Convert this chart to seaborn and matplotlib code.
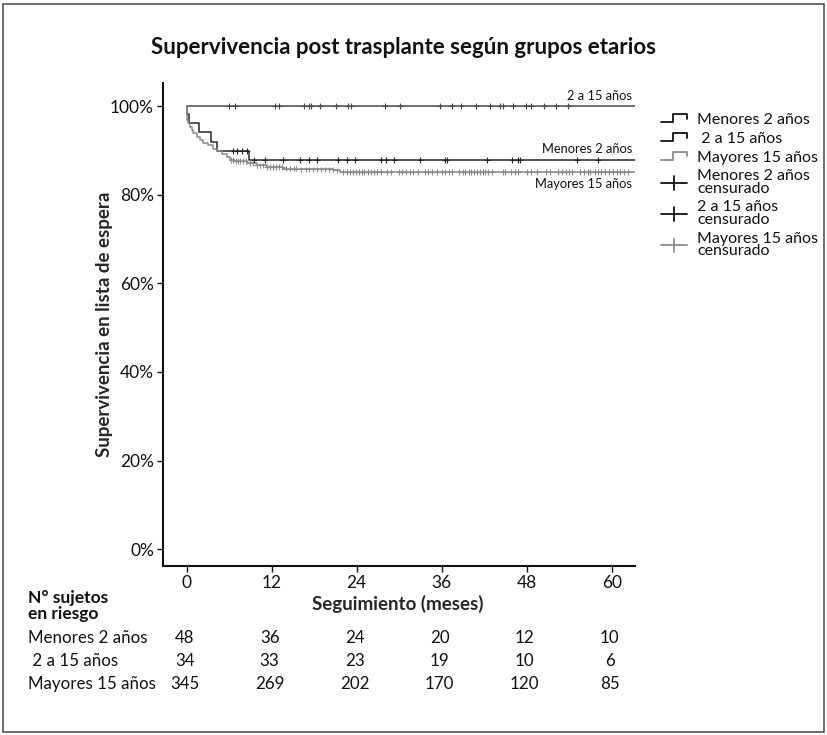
import numpy as np
import pandas as pd
import matplotlib
matplotlib.use("Agg")
import matplotlib.pyplot as plt
import matplotlib.transforms as mtransforms
from matplotlib.lines import Line2D
from matplotlib.legend_handler import HandlerBase
from matplotlib.patches import Rectangle
import seaborn as sns

# ---------------- data ----------------
grupos = ["Menores 2 años", "2 a 15 años", "Mayores 15 años"]
etiquetas_leyenda = ["Menores 2 años", " 2 a 15 años", "Mayores 15 años"]

tiempo_menores = [0.0, 0.05, 0.38, 1.79, 3.39, 4.33, 8.75, 63.3]
superv_menores = [1.0, 0.983, 0.961, 0.941, 0.919, 0.899, 0.878, 0.878]

tiempo_2a15 = [0.0, 63.3]
superv_2a15 = [1.0, 1.0]

tiempo_mayores = [0.0, 0.05, 0.24, 0.47, 0.70, 0.94, 1.41, 1.88, 2.35, 3.06, 3.76,
                  4.24, 4.94, 5.65, 6.12, 6.82, 8.47, 9.88, 11.3, 13.6, 16.0, 20.7,
                  21.6, 63.3]
superv_mayores = [1.0, 0.968, 0.961, 0.953, 0.946, 0.940, 0.931, 0.923, 0.917, 0.911,
                  0.904, 0.899, 0.892, 0.884, 0.878, 0.876, 0.871, 0.866, 0.863,
                  0.859, 0.857, 0.855, 0.851, 0.851]

censura_menores = [6.6, 7.1, 7.8, 8.5, 9.5, 11.0, 13.6, 16.0, 17.3, 18.4, 21.3, 22.6,
                   23.8, 27.5, 28.2, 29.3, 33.0, 36.4, 36.7, 42.4, 46.0, 46.8, 47.1,
                   55.1, 58.1]
censura_2a15 = [6.0, 6.8, 12.4, 13.0, 16.5, 17.2, 17.6, 18.8, 21.1, 22.8, 23.2, 28.0,
                30.1, 35.7, 37.4, 38.8, 40.9, 42.8, 44.2, 44.6, 46.1, 47.9, 48.6,
                50.5, 52.2, 53.9]
censura_mayores = [6.3, 6.6, 6.9, 7.2, 7.5, 8.0, 8.3, 8.9, 9.3, 9.9, 10.4, 10.8, 11.3,
                   11.7, 12.2, 12.6, 13.1, 13.5, 14.0, 14.6, 15.1, 15.5, 16.2, 16.8,
                   17.3, 17.9, 18.4, 19.0, 19.5, 20.1, 20.6, 21.2, 22.1, 22.7, 23.1,
                   23.5, 23.9, 24.3, 24.7, 25.1, 25.6, 26.0, 26.4, 26.9, 27.4, 28.3,
                   28.8, 30.0, 30.4, 31.0, 31.5, 32.0, 32.6, 33.6, 34.1, 34.6, 35.3,
                   36.1, 36.5, 37.1, 37.4, 38.5, 39.0, 39.3, 39.8, 40.2, 40.6, 41.0,
                   41.4, 41.8, 42.1, 42.6, 43.1, 44.6, 45.0, 45.8, 46.3, 46.8, 48.0,
                   48.6, 49.5, 50.8, 51.3, 52.4, 53.0, 53.5, 54.0, 54.4, 55.5, 56.1,
                   56.6, 57.0, 57.6, 58.1, 58.5, 59.0, 59.6, 60.2, 60.7, 61.2, 61.8,
                   62.3]

ticks_x = [0, 12, 24, 36, 48, 60]
ticks_y = [0.0, 0.2, 0.4, 0.6, 0.8, 1.0]
etiquetas_y = ["0%", "20%", "40%", "60%", "80%", "100%"]

riesgo_menores = [48, 36, 24, 20, 12, 10]
riesgo_2a15 = [34, 33, 23, 19, 10, 6]
riesgo_mayores = [345, 269, 202, 170, 120, 85]
etiquetas_riesgo = ["Menores 2 años", " 2 a 15 años", "Mayores 15 años"]

colores = {"Menores 2 años": "#262626", "2 a 15 años": "#4a4a4a",
           "Mayores 15 años": "#8a8a8a"}

# ---------------- tables ----------------
curvas = {
    "Menores 2 años": (tiempo_menores, superv_menores, censura_menores),
    "2 a 15 años": (tiempo_2a15, superv_2a15, censura_2a15),
    "Mayores 15 años": (tiempo_mayores, superv_mayores, censura_mayores),
}
filas, filas_c = [], []
for g in grupos:
    t, s, c = curvas[g]
    for ti, si in zip(t, s):
        filas.append({"grupo": g, "tiempo": ti, "supervivencia": si})
    t_arr = np.asarray(t)
    for ci in c:
        idx = np.searchsorted(t_arr, ci, side="right") - 1
        filas_c.append({"grupo": g, "tiempo": ci, "supervivencia": s[idx]})
df = pd.DataFrame(filas)
df_c = pd.DataFrame(filas_c)

# ---------------- figure ----------------
sns.set_theme(style="ticks")
plt.rcParams["font.family"] = ["Lato", "DejaVu Sans"]
plt.rcParams["text.color"] = "#111111"

W, H = 828, 735
fig = plt.figure(figsize=(W / 100, H / 100), dpi=100)
ax_l, ax_r, ax_t, ax_b = 163, 635, 83, 566
ax = fig.add_axes([ax_l / W, 1 - ax_b / H, (ax_r - ax_l) / W, (ax_b - ax_t) / H])

sns.lineplot(data=df, x="tiempo", y="supervivencia", hue="grupo", hue_order=grupos,
             palette=colores, drawstyle="steps-post", estimator=None, sort=False,
             linewidth=1.1, legend=False, ax=ax)
sns.scatterplot(data=df_c, x="tiempo", y="supervivencia", hue="grupo", hue_order=grupos,
                palette=colores, marker="+", s=16, linewidth=0.8, legend=False, ax=ax,
                zorder=3)

ax.set_xlim(-3.35, 63.3)
ax.set_ylim(-0.038, 1.052)
ax.set_xticks(ticks_x)
ax.set_xticklabels([str(v) for v in ticks_x])
ax.set_yticks(ticks_y)
ax.set_yticklabels(etiquetas_y)
sns.despine(ax=ax)
for sp in ("left", "bottom"):
    ax.spines[sp].set_linewidth(1.5)
    ax.spines[sp].set_color("#111111")
ax.tick_params(axis="both", length=4, width=1, color="#111111", labelsize=12.5,
               labelcolor="#111111", pad=2.5)

ax.set_ylabel("Supervivencia en lista de espera", fontsize=13.5, fontweight="bold")
ax.yaxis.set_label_coords(-0.106, 0.5)
ax.set_xlabel("Seguimiento (meses)", fontsize=13.5, fontweight="bold")
ax.xaxis.set_label_coords(0.498, -0.079)
ax.xaxis.label.set_va("center")

# curve end labels
ax.text(62.9, 1.0226, "2 a 15 años", ha="right", va="center", fontsize=9.3)
ax.text(62.9, 0.903, "Menores 2 años", ha="right", va="center", fontsize=9.3)
ax.text(62.9, 0.824, "Mayores 15 años", ha="right", va="center", fontsize=9.3)

# title
fig.text(0.487, 1 - 47 / H, "Supervivencia post trasplante según grupos etarios",
         ha="center", va="center", fontsize=16, fontweight="bold")

# legend with step-shaped handles
class StepHandler(HandlerBase):
    def create_artists(self, legend, orig_handle, xdescent, ydescent, width, height,
                       fontsize, trans):
        x0, y0 = -xdescent, -ydescent
        xs = [x0, x0 + width * 0.45, x0 + width * 0.45, x0 + width, x0 + width]
        ys = [y0 + height * 0.1, y0 + height * 0.1, y0 + height * 0.85,
              y0 + height * 0.85, y0 + height * 0.45]
        ln = Line2D(xs, ys, color=orig_handle.get_color(), lw=1.3)
        ln.set_transform(trans)
        return [ln]


class CrossHandler(HandlerBase):
    def create_artists(self, legend, orig_handle, xdescent, ydescent, width, height,
                       fontsize, trans):
        x0, y0 = -xdescent, -ydescent
        cy = y0 + height * 0.45
        h = Line2D([x0, x0 + width], [cy, cy], color=orig_handle.get_color(), lw=1.3)
        v = Line2D([x0 + width / 2] * 2, [cy - height * 0.6, cy + height * 0.6],
                   color=orig_handle.get_color(), lw=1.3)
        h.set_transform(trans)
        v.set_transform(trans)
        return [h, v]


class StepProxy(Line2D):
    pass


class CrossProxy(Line2D):
    pass


leg_colores = ["#111111", "#111111", "#8a8a8a"]
handles = [StepProxy([], [], color=c) for c in leg_colores] + \
          [CrossProxy([], [], color=c) for c in leg_colores]
labels = etiquetas_leyenda + [g + "\ncensurado" for g in grupos]
leg = fig.legend(handles, labels, loc="upper left",
                 bbox_to_anchor=(655 / W, 1 - 106 / H), frameon=False,
                 fontsize=11.5, labelspacing=0.3, handlelength=1.6,
                 handletextpad=0.65, borderaxespad=0,
                 handler_map={StepProxy: StepHandler(), CrossProxy: CrossHandler()})
for t in leg.get_texts():
    t.set_linespacing(0.85)

# risk table
fig.text(28 / W, 1 - 606 / H, "N° sujetos\nen riesgo", ha="left", va="center",
         fontsize=12.5, fontweight="bold", linespacing=1.0)
blend = mtransforms.blended_transform_factory(ax.transData, fig.transFigure)
filas_y = [638, 661, 684]
for etiqueta, valores, yy in zip(etiquetas_riesgo,
                                  [riesgo_menores, riesgo_2a15, riesgo_mayores], filas_y):
    fig.text(28 / W, 1 - yy / H, etiqueta, ha="left", va="center", fontsize=12.2)
    for xv, v in zip(ticks_x, valores):
        ax.text(xv - 0.3, 1 - yy / H, str(v), transform=blend, ha="center",
                va="center", fontsize=12.2)

# outer frame
fig.add_artist(Rectangle((3.5 / W, 3.5 / H), 1 - 7 / W, 1 - 7 / H,
                         transform=fig.transFigure, fill=False, ec="#555555", lw=1.2))

fig.savefig("out.png", dpi=100)
